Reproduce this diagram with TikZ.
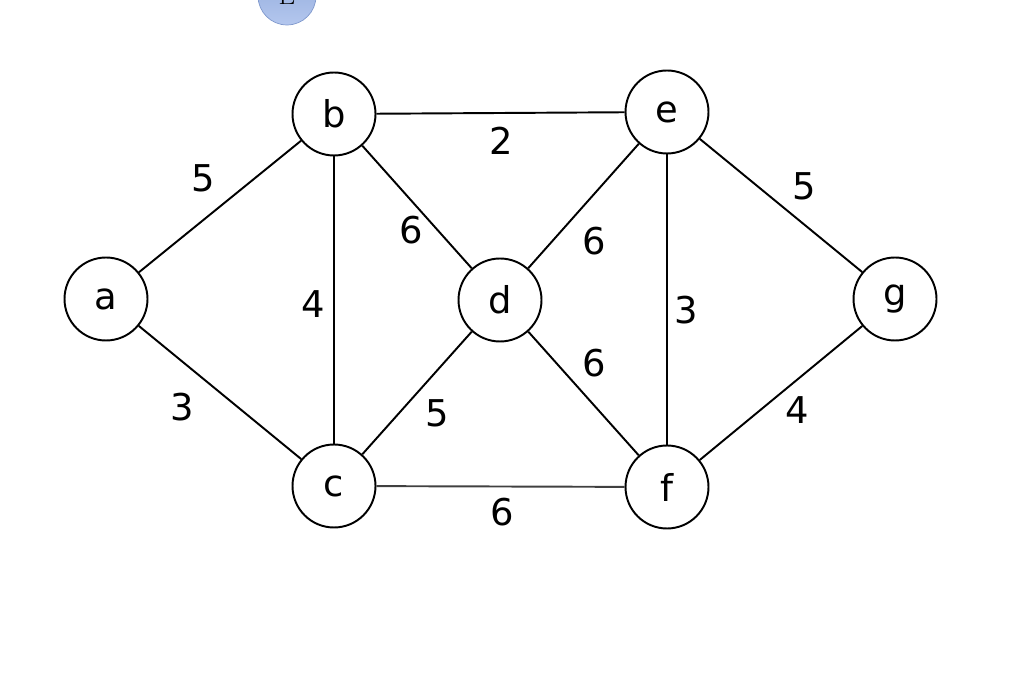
\documentclass[tikz,border=0pt]{standalone}
\usepackage{fontspec}
\setsansfont{DejaVu Sans}
\usepackage{xcolor}
\usepackage{tikz}
\usetikzlibrary{positioning}
\definecolor{ballTop}{HTML}{8EA8DA}
\definecolor{ballBottom}{HTML}{B4C7EE}
\definecolor{ballEdge}{HTML}{7F98CC}

\begin{document}
\begin{tikzpicture}[x=0.02cm,y=-0.02cm,
    vertex/.style={circle,draw,line width=1.1pt,minimum size=1.66cm,inner sep=0pt,
                   font=\sffamily\fontsize{21}{25}\selectfont},
    edge/.style={line width=1.1pt},
    wt/.style={font=\sffamily\fontsize{21}{25}\selectfont}]
        \useasboundingbox (0,0) rectangle (1030,688);
        % the ball cut off at the top
        \node[circle,draw=ballEdge,top color=ballTop,bottom color=ballBottom,
              minimum size=1.16cm,inner sep=0pt,font=\fontsize{15}{18}\selectfont]
              (ball) at (287,-4) {E};
        % vertices
        \node[vertex] (a) at (106,299) {a};
        \node[vertex] (b) at (334,114) {b};
        \node[vertex] (c) at (334,486) {c};
        \node[vertex] (d) at (500,300) {d};
        \node[vertex] (e) at (667,112) {e};
        \node[vertex] (f) at (667,487) {f};
        \node[vertex] (g) at (895,299) {g};
        % edges
        \draw[edge] (a) -- (b);
        \draw[edge] (a) -- (c);
        \draw[edge] (b) -- (c);
        \draw[edge] (b) -- (d);
        \draw[edge] (b) -- (e);
        \draw[edge] (d) -- (e);
        \draw[edge] (c) -- (d);
        \draw[edge] (d) -- (f);
        \draw[edge] (e) -- (f);
        \draw[edge,black!75] (c) -- (f);
        \draw[edge] (e) -- (g);
        \draw[edge] (f) -- (g);
        % weights
        \node[wt] (wab) at (203,178) {5};
        \node[wt] (wac) at (182,407) {3};
        \node[wt] (wbc) at (313,304) {4};
        \node[wt] (wbd) at (411,230) {6};
        \node[wt] (wbe) at (501,141) {2};
        \node[wt] (wde) at (594,241) {6};
        \node[wt] (wcd) at (437,413) {5};
        \node[wt] (wdf) at (594,363) {6};
        \node[wt] (wef) at (686,310) {3};
        \node[wt] (wcf) at (502,512) {6};
        \node[wt] (weg) at (804,186) {5};
        \node[wt] (wfg) at (797,410) {4};
      \end{tikzpicture}
\end{document}
